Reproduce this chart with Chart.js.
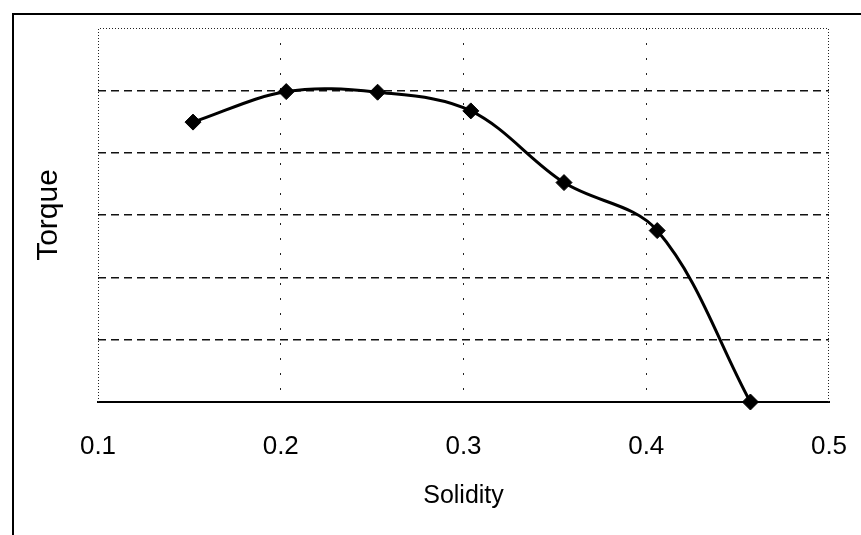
<!DOCTYPE html>
<html>
<head>
<meta charset="utf-8">
<script src="https://cdn.jsdelivr.net/npm/chart.js@4.4.1/dist/chart.umd.min.js"></script>
<style>
  html, body { margin: 0; padding: 0; background: #fff; }
  #wrap { position: relative; width: 861px; height: 535px; overflow: hidden; }
  #frame {
    position: absolute; left: 12px; top: 13px; right: 0; bottom: 0;
    border-left: 2px solid #000; border-top: 2px solid #000;
  }
  canvas { position: absolute; left: 0; top: 0; }
</style>
</head>
<body>
<div id="wrap">
  <div id="frame"></div>
  <canvas id="torqueChart" width="861" height="535"></canvas>
</div>
<script>
// values (torque has no units on the original)
const solidity = [0.152, 0.203, 0.253, 0.304, 0.355, 0.406, 0.457];
const torque = [4.49, 4.98, 4.97, 4.67, 3.52, 2.75, 0];
const xTickLabels = ['0.1', '0.2', '0.3', '0.4', '0.5'];

const textFont = "'Liberation Sans', Arial, sans-serif";

// dotted left / top / right edges of the plot area
const plotEdges = {
    id: 'plotEdges',
    beforeDatasetsDraw(chart) {
        const { ctx, chartArea: a } = chart;
        ctx.save();
        ctx.strokeStyle = '#222';
        ctx.lineWidth = 1;
        ctx.setLineDash([1, 2]);
        ctx.beginPath();
        ctx.moveTo(a.left + 0.5, a.bottom);
        ctx.lineTo(a.left + 0.5, a.top + 0.5);
        ctx.lineTo(a.right - 0.5, a.top + 0.5);
        ctx.lineTo(a.right - 0.5, a.bottom);
        ctx.stroke();
        ctx.restore();
    }
};

const points = solidity.map((s, i) => ({ x: s, y: torque[i] }));

new Chart(document.getElementById('torqueChart'), {
    type: 'line',
    data: {
        datasets: [{
            label: 'Torque',
            data: points,
            borderColor: '#000',
            borderWidth: 3,
            tension: 0.35,
            pointStyle: 'rectRot',
            pointRadius: 8,
            pointBackgroundColor: '#000',
            pointBorderColor: '#000',
            pointBorderWidth: 1,
            clip: false
        }]
    },
    options: {
        responsive: false,
        animation: false,
        layout: { padding: { top: 28, right: 32, left: 0, bottom: 0 } },
        plugins: {
            legend: { display: false },
            tooltip: { enabled: false }
        },
        scales: {
            x: {
                type: 'linear',
                min: 0.1,
                max: 0.5,
                afterFit: (s) => {
                    s.height = 133;
                    // labels sit inside the right margin already
                    s.paddingLeft = 0;
                    s.paddingRight = 0;
                },
                ticks: {
                    stepSize: 0.1,
                    padding: 29,
                    color: '#000',
                    font: { family: textFont, size: 26 },
                    callback: (v, i) => xTickLabels[i]
                },
                grid: {
                    drawTicks: false,
                    lineWidth: 1,
                    color: (c) => (c.index === 0 || c.index === xTickLabels.length - 1) ? 'rgba(0,0,0,0)' : '#222'
                },
                border: { display: true, color: '#000', width: 2, dash: [2, 13] },
                title: {
                    display: true,
                    text: 'Solidity',
                    color: '#000',
                    font: { family: textFont, size: 25 },
                    padding: { top: 0, bottom: 24 }
                }
            },
            y: {
                min: 0,
                max: 6,
                afterFit: (s) => { s.width = 98; },
                ticks: { stepSize: 1, display: false },
                grid: {
                    drawTicks: false,
                    lineWidth: 1.5,
                    color: (c) => (c.tick && (c.tick.value === 0 || c.tick.value === 6)) ? 'rgba(0,0,0,0)' : '#111'
                },
                border: { display: false, dash: [8, 5] },
                title: {
                    display: true,
                    text: 'Torque',
                    color: '#000',
                    font: { family: textFont, size: 30 },
                    padding: { top: 31, bottom: 0 }
                }
            }
        }
    },
    plugins: [plotEdges]
});
</script>
</body>
</html>
